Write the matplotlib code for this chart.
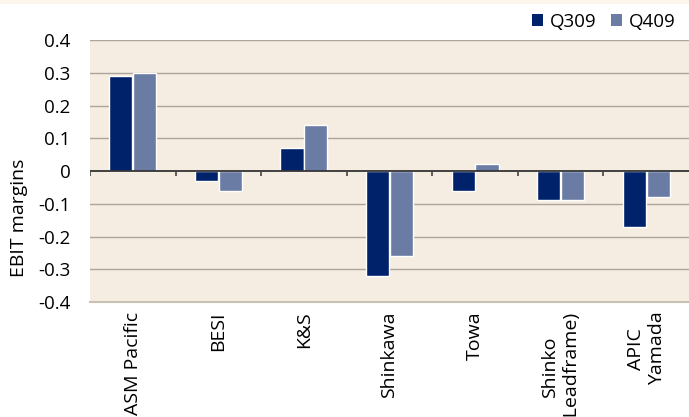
import matplotlib
matplotlib.use("Agg")
import matplotlib.pyplot as plt
import numpy as np
from matplotlib.patches import Patch, Rectangle

categories = ["ASM Pacific", "BESI", "K&S", "Shinkawa", "Towa", "Shinko\n(Leadframe)", "APIC\nYamada"]
q309 = [0.29, -0.03, 0.07, -0.32, -0.06, -0.09, -0.17]
q409 = [0.30, -0.06, 0.14, -0.26, 0.02, -0.09, -0.08]
series_names = ["Q309", "Q409"]
yticks = [0.4, 0.3, 0.2, 0.1, 0, -0.1, -0.2, -0.3, -0.4]

c_dark = "#00226A"
c_light = "#6A7BA4"
bg = "#F5EDE1"
grid_c = "#ADA59B"

plt.rcParams["font.family"] = ["Open Sans", "DejaVu Sans"]
plt.rcParams["axes.unicode_minus"] = False

fig = plt.figure(figsize=(6.89, 4.17), dpi=100)
fig.patch.set_facecolor("white")
# faint top border strip
fig.patches.append(Rectangle((0, 1 - 4 / 417), 1, 4 / 417, transform=fig.transFigure,
                             facecolor="#FBF5EC", edgecolor="none"))

ax = fig.add_axes([90 / 689, 1 - 302 / 417, 1 - 90 / 689, 262 / 417])
ax.set_facecolor(bg)

x = np.arange(len(categories))
w = 0.27
off = 0.14
ax.bar(x - off, q309, width=w, color=c_dark, edgecolor="white", linewidth=1.0, zorder=3)
ax.bar(x + off, q409, width=w, color=c_light, edgecolor="white", linewidth=1.0, zorder=3)

ax.set_ylim(-0.4, 0.4)
ax.set_xlim(-0.5, len(categories) - 0.5)
for v in yticks:
    if v == 0:
        continue
    ax.axhline(v, color=grid_c, lw=1.0, zorder=1)
ax.axhline(0, color="#333333", lw=1.3, zorder=4)
# category separator ticks below zero line
bnd = np.arange(len(categories)) - 0.5
ax.vlines(bnd, -0.016, 0, color="#444444", lw=1.2, zorder=4)

for s in ["top", "right", "left"]:
    ax.spines[s].set_visible(False)
ax.spines["bottom"].set_color("#C9C0B4")
ax.spines["bottom"].set_linewidth(1.5)

ax.set_yticks(yticks)
ax.set_yticklabels([f"{v:g}" for v in yticks])
ax.tick_params(axis="y", length=0, pad=14, labelsize=13.5)
ax.set_xticks(x)
ax.set_xticklabels(categories, rotation=90, va="top", ha="center")
ax.tick_params(axis="x", length=0, pad=7, labelsize=14)

ax.set_ylabel("EBIT margins", fontsize=14)
ax.yaxis.set_label_coords(-0.104, 0.32)

handles = [Patch(facecolor=c_dark, edgecolor="none"), Patch(facecolor=c_light, edgecolor="none")]
fig.legend(handles, series_names, loc="upper right", bbox_to_anchor=(1.005, 1.01),
           ncol=2, frameon=False, fontsize=13.5, handlelength=0.6, handleheight=0.6,
           handletextpad=0.35, columnspacing=0.8)

fig.savefig("out.png", dpi=100)
